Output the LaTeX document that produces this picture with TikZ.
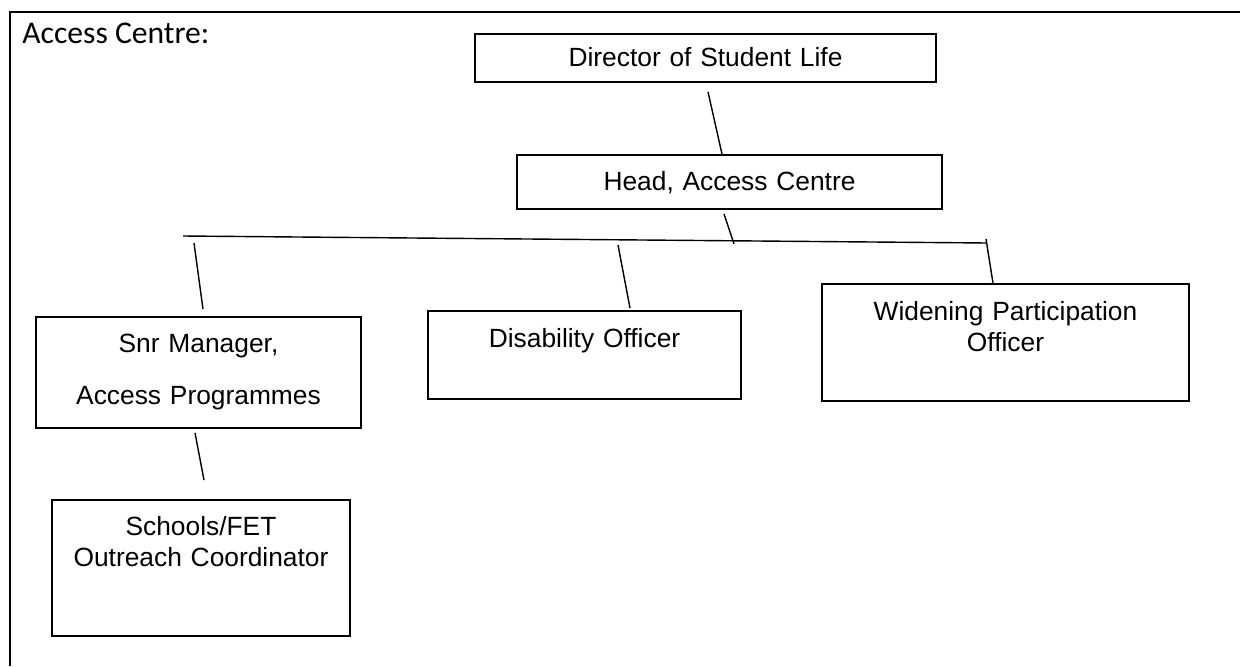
\documentclass[tikz,border=0pt]{standalone}
\usepackage{fontspec}
\usepackage{tikz}
\newfontfamily\arialfont{Liberation Sans}
\newfontfamily\calibrifont{Carlito}
\usetikzlibrary{positioning, calc}

\begin{document}
\begin{tikzpicture}[
    x=0.02cm, y=-0.02cm,
    post/.style={draw, line width=1pt, inner sep=0pt, align=center,
                 font=\arialfont\fontsize{15}{18.2}\selectfont},
    link/.style={line width=0.8pt}
]
    \useasboundingbox (0,0) rectangle (1240,666);

    % Page frame and heading
    \draw[line width=1.7pt] (1240,12) -- (10,12) -- (10,666);
    \node[anchor=base west, inner sep=0pt, font=\calibrifont\fontsize{18}{22}\selectfont] (title) at (22,43) {Access Centre:};

    % Top of the chart
    \node[post, text width=9.22cm, text height=0.66cm, text depth=0.30cm] (director) at (705.5,58) {Director of Student Life};
    \node[post, text width=8.5cm, text height=0.70cm, text depth=0.38cm] (head) at (729.5,182) {Head, Access Centre};

    % Officers
    \node[post, text width=6.5cm, text height=0.70cm, text depth=1.52cm] (snr) at (198.5,372.5) {Snr Manager,\\[0.42cm]Access Programmes};
    \node[post, text width=6.26cm, text height=0.72cm, text depth=1.04cm] (disability) at (584.5,355) {Disability Officer};
    \node[post, text width=7.34cm, text height=0.72cm, text depth=1.62cm] (widening) at (1005.5,342.5) {Widening Participation\\Officer};
    \node[post, text width=5.96cm, text height=0.70cm, text depth=2.02cm] (schools) at (201,568) {Schools/FET\\Outreach Coordinator};

    % Bus line
    \coordinate (busL) at (183,236);
    \coordinate (busR) at (987,243);
    \coordinate (busM) at (734,244);
    \draw[link] (busL) -- (busR);

    % Links
    \draw[link] ([shift={(2.5,9)}]director.south) -- ([shift={(-7.5,0)}]head.north);
    \draw[link] ([shift={(-5.5,4)}]head.south) -- (busM);
    \draw[link] ([shift={(-1,-4)}]busR) -- ([shift={(-12.5,0)}]widening.north);
    \draw[link] ([shift={(11,7)}]busL) -- ([shift={(4.5,-7)}]snr.north);
    \draw[link] ([shift={(435,9)}]busL) -- ([shift={(45.5,-2)}]disability.north);
    \draw[link] ([shift={(-3.5,4)}]snr.south) -- ([shift={(3,-19)}]schools.north);
\end{tikzpicture}
\end{document}
